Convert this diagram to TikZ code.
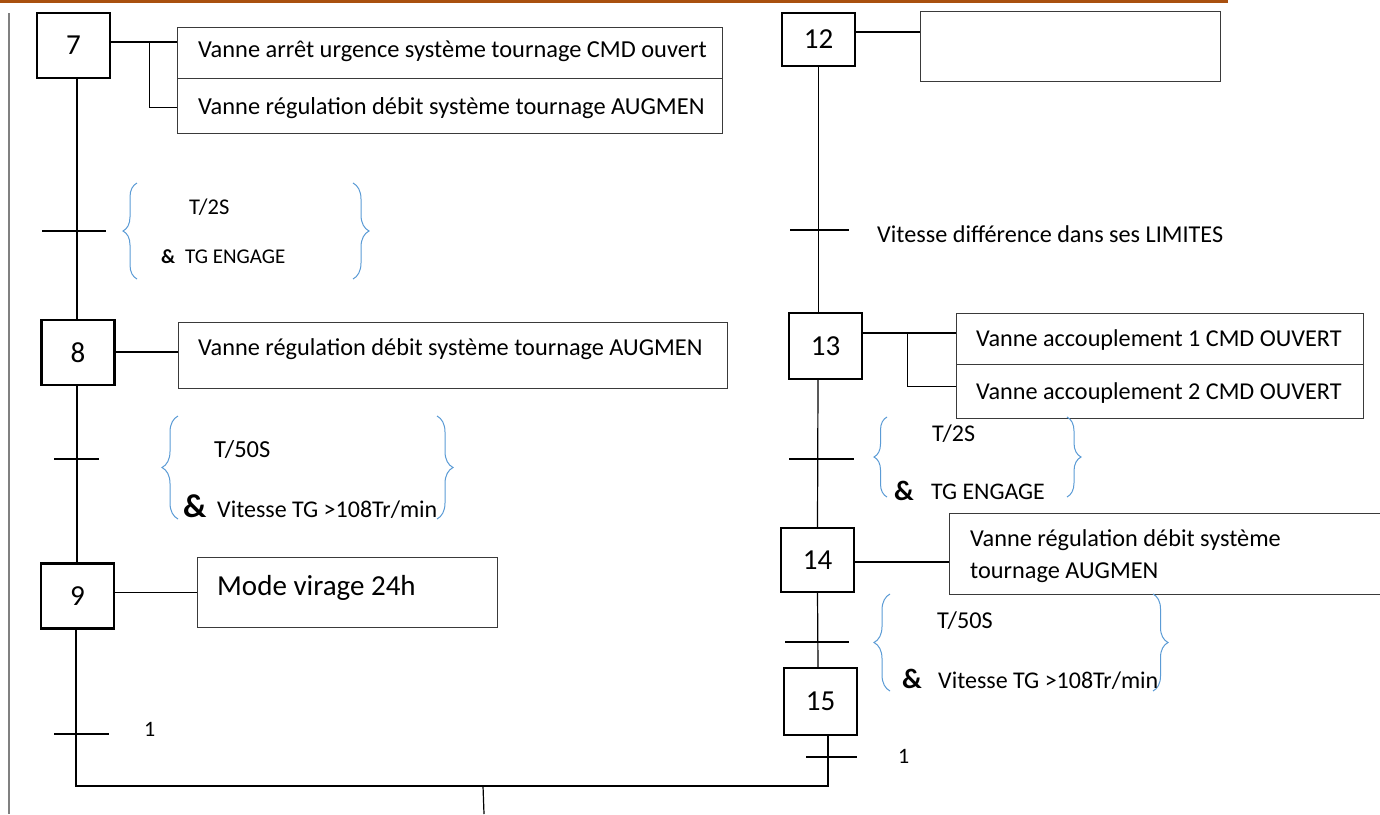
\documentclass[tikz,border=0pt]{standalone}
\usepackage{fontspec}
\setmainfont{Carlito}
\usetikzlibrary{calc,decorations.pathreplacing}
\definecolor{rulecol}{HTML}{A9500F}
\definecolor{bracecol}{HTML}{5B9BD5}
\definecolor{framecol}{HTML}{3A3A3A}
\newcommand{\txtsize}[1]{\fontsize{#1}{#1}\selectfont}

\begin{document}
\begin{tikzpicture}[x=1pt,y=-1pt,
  stepbox/.style={draw, line width=2.4pt, minimum width=73pt, minimum height=65pt,
                  inner sep=0pt, font=\txtsize{29}},
  actbox/.style={draw=framecol, line width=1.3pt, anchor=north west, inner sep=0pt},
  lbl/.style={anchor=base west, inner sep=0pt},
  amp/.style={lbl, font=\bfseries\txtsize{#1}},
  link/.style={line width=1.2pt},
  tickmark/.style={line width=1.2pt},
  brc/.style={draw=bracecol, line width=1pt, decorate, decoration={brace, amplitude=#1}}
]
\useasboundingbox (0,0) rectangle (1380,814);
\clip (0,0) rectangle (1380,814);

% page rule and margin line
\draw[rulecol, line width=2.5pt] (0,1.3) -- (1228,1.3);
\draw[gray, line width=1.5pt] (9,13) -- (9,814);

% ---------- steps ----------
\node[stepbox] (s7) at (73.5,45.5) {7};
\node[stepbox] (s8) at (78,352.5) {8};
\node[stepbox] (s9) at (77.5,596) {9};
\node[stepbox, minimum height=53pt] (s12) at (818.5,39.5) {12};
\node[stepbox, minimum height=66pt] (s13) at (825.5,346) {13};
\node[stepbox, minimum height=64pt] (s14) at (817.5,560) {14};
\node[stepbox, minimum height=67pt] (s15) at (820.5,701.5) {15};

% ---------- actions ----------
\node[actbox, minimum width=545pt, minimum height=51pt] (a7a) at (177,27) {};
\node[actbox, minimum width=545pt, minimum height=55pt] (a7b) at (177,78) {};
\node[actbox, minimum width=549pt, minimum height=66pt] (a8) at (178,322) {};
\node[actbox, minimum width=300pt, minimum height=70pt] (a9) at (197,557) {};
\node[actbox, minimum width=300pt, minimum height=70pt] (a12) at (920,11) {};
\node[actbox, minimum width=407pt, minimum height=51pt] (a13a) at (956,313) {};
\node[actbox, minimum width=407pt, minimum height=54pt] (a13b) at (956,364) {};
\node[actbox, minimum width=441pt, minimum height=81pt] (a14) at (949,513) {};

\node[lbl, font=\txtsize{24.4}] at (198,57) {Vanne arrêt urgence système tournage CMD ouvert};
\node[lbl, font=\txtsize{24.4}] at (198,114) {Vanne régulation débit système tournage AUGMEN};
\node[lbl, font=\txtsize{24.3}] at (198,355) {Vanne régulation débit système tournage AUGMEN};
\node[lbl, font=\txtsize{29}] at (217,595) {Mode virage 24h};
\node[lbl, font=\txtsize{24.2}] at (976,346) {Vanne accouplement 1 CMD OUVERT};
\node[lbl, font=\txtsize{24.2}] at (976,399) {Vanne accouplement 2 CMD OUVERT};
\node[lbl, font=\txtsize{24.3}] at (970,546) {Vanne régulation débit système};
\node[lbl, font=\txtsize{24.3}] at (970,578) {tournage AUGMEN};

% ---------- action links ----------
\coordinate (c7) at ($(s7.east)+(0,-3.5)$);
\coordinate (b7) at ($(c7)+(38,0)$);
\draw[link] (c7) -- (c7 -| a7a.west);
\draw[link] (b7) |- ($(a7b.west)+(0,1.5)$);
\coordinate (c8) at ($(s8.east)+(0,-0.5)$);
\draw[link] (c8) -- (c8 -| a8.west);
\draw[link] (a9.west -| s9.east) -- (a9.west);
\coordinate (c12) at ($(s12.east)+(0,-7.5)$);
\draw[link] (c12) -- (c12 -| a12.west);
\coordinate (c13) at ($(s13.east)+(0,-13)$);
\coordinate (b13) at ($(c13)+(44,0)$);
\draw[link] (c13) -- (c13 -| a13a.west);
\draw[link] (b13) |- ($(a13b.west)+(0,-5)$);
\coordinate (c14) at ($(s14.east)+(0,2)$);
\draw[link] (c14) -- (c14 -| a14.west);

% ---------- sequence links ----------
\draw[link] ($(s7.south)+(3.5,0)$) -- ($(s8.north)+(-1,0)$);
\draw[link] ($(s8.south)+(-1,0)$) -- ($(s9.north)+(-0.5,0)$);
\draw[link] (s12.south) -- (s12.south |- s13.north);
\draw[link] ($(s13.south)+(-7.5,0)$) -- (s14.north);
\draw[link] (s14.south) -- ($(s15.north)+(-2.5,0)$);
\coordinate (jl) at (76,786);
\coordinate (jr) at (828,786);
\coordinate (jm) at (483,786);
\coordinate (out) at (484,814);
\draw[link] ($(s9.south)+(-1.5,0)$) -- (jl) -- (jr) -- ($(s15.south)+(7.5,0)$);
\draw[link] (jm) -- (out);

% ---------- transitions ----------
\draw[tickmark] (42,231) -- (106,231);
\draw[tickmark] (54,459) -- (99,459);
\draw[tickmark] (54,734) -- (109,734);
\draw[tickmark] (790,230) -- (849,230);
\draw[tickmark] (789,459) -- (854,459);
\draw[tickmark] (785,642) -- (849,642);
\draw[tickmark] (806,757) -- (857,757);

% receptivities
\path[brc=14pt] (137,279) -- (137,183);
\path[brc=16pt] (353,183) -- (353,279);
\node[lbl, font=\txtsize{22.5}] at (189,214) {T/2S};
\node[amp=20] at (161,263) {\&};
\node[lbl, font=\txtsize{21}] at (185,263) {TG ENGAGE};

\path[brc=16pt] (178,519) -- (178,416);
\path[brc=16pt] (437,416) -- (437,519);
\node[lbl, font=\txtsize{24.5}] at (214,457) {T/50S};
\node[amp=33] at (183,517) {\&};
\node[lbl, font=\txtsize{24}] at (217,517) {Vitesse TG >108Tr/min};

\node[lbl, font=\txtsize{22}] at (144,736) {1};

\node[lbl, font=\txtsize{24.2}] at (877,242) {Vitesse différence dans ses LIMITES};

\path[brc=13pt] (887,497) -- (887,417);
\path[brc=14pt] (1067,417) -- (1067,497);
\node[lbl, font=\txtsize{24}] at (932,441) {T/2S};
\node[amp=28] at (894,500) {\&};
\node[lbl, font=\txtsize{23.8}] at (931,499) {TG ENGAGE};

\path[brc=16pt] (890,691) -- (890,594);
\path[brc=15pt] (1153,594) -- (1153,691);
\node[lbl, font=\txtsize{24.2}] at (937,628) {T/50S};
\node[amp=28] at (902,688) {\&};
\node[lbl, font=\txtsize{24}] at (938,688) {Vitesse TG >108Tr/min};

\node[lbl, font=\txtsize{22}] at (898,763) {1};
\end{tikzpicture}
\end{document}
